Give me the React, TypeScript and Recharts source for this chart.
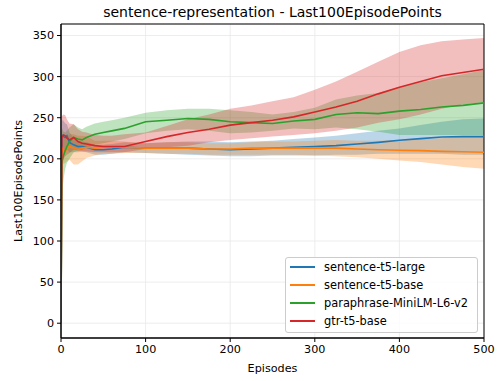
import React from 'react';
import {
  ComposedChart,
  Area,
  Line,
  XAxis,
  YAxis,
  CartesianGrid,
  ReferenceArea,
  Customized,
} from 'recharts';

const episodes = [0, 1, 2, 3, 5, 7, 10, 15, 20, 25, 30, 40, 50, 60, 75, 100, 125, 150, 175, 200, 225, 250, 275, 300, 325, 350, 375, 400, 425, 450, 475, 500];

const t5LargeMean = [0, 225, 228, 227, 226, 228, 220, 217, 215, 215, 214, 211, 211, 212, 214, 213, 213, 213, 212, 211, 212, 213, 214, 215, 216, 218, 220, 222.5, 224.5, 226.5, 227, 227];
const t5LargeLow = [0, 205, 208, 210, 211, 212, 208, 208, 208, 209, 208, 205, 205, 206, 208, 207, 206, 205, 204, 203, 203, 204, 204, 204, 205, 205, 206, 206, 206, 206, 205, 205];
const t5LargeHigh = [0, 245, 248, 246, 243, 242, 232, 226, 222, 221, 220, 217, 217, 218, 220, 219, 220, 221, 221, 220, 221, 222, 224, 226, 228, 231, 234, 237, 241, 245, 248, 249];

const t5BaseMean = [0, 214, 212, 210, 210, 212, 215, 213, 211, 213, 214, 213, 214, 214, 214, 213, 213, 213, 212, 212, 213, 213, 213, 213, 213, 212, 211, 210.5, 210, 209, 208.5, 208];
const t5BaseLow = [0, 196, 195, 194, 195, 197, 199, 193, 193, 197, 201, 204, 206, 206, 207, 207, 206, 206, 205, 205, 205, 205, 205, 204, 203, 202, 200, 198, 196, 193, 190, 188];
const t5BaseHigh = [0, 232, 229, 226, 225, 227, 230, 230, 228, 228, 227, 222, 222, 222, 221, 219, 220, 220, 219, 219, 220, 221, 221, 222, 223, 222, 222, 223, 224, 225, 227, 228];

const miniLmMean = [0, 195, 200, 204, 210, 215, 221, 226, 224, 223, 226, 230, 232, 234, 237, 245, 247, 249, 248, 245, 244, 243, 246, 248, 254, 256, 255, 258, 260, 263, 265, 268];
const miniLmLow = [0, 150, 165, 175, 188, 195, 200, 208, 210, 211, 213, 217, 219, 221, 224, 231, 234, 236, 234, 231, 232, 234, 237, 236, 238, 236, 233, 229, 229, 229, 229, 229];
const miniLmHigh = [0, 238, 235, 233, 232, 234, 238, 242, 238, 236, 239, 243, 245, 247, 250, 256, 259, 261, 261, 259, 257, 254, 257, 262, 272, 277, 280, 287, 293, 298, 303, 308];

const gtrMean = [0, 226, 228, 229, 228, 225, 223, 226, 221, 219, 218, 216, 215, 215, 215, 221, 227, 232, 236, 241, 244, 247, 251, 257, 263, 270, 279, 287, 294, 301, 305, 309];
const gtrLow = [0, 196, 198, 200, 203, 205, 207, 211, 210, 209, 209, 208, 208, 208, 208, 212, 214, 216, 220, 223, 225, 227, 229, 231, 234, 238, 244, 248, 254, 261, 266, 269];
const gtrHigh = [0, 252, 253, 254, 253, 248, 243, 242, 236, 233, 232, 229, 228, 228, 230, 232, 240, 248, 254, 261, 265, 270, 275, 284, 294, 306, 318, 330, 338, 343, 345, 347];

const seriesNames = ['sentence-t5-large', 'sentence-t5-base', 'paraphrase-MiniLM-L6-v2', 'gtr-t5-base'];
const colors = ['#1f77b4', '#ff7f0e', '#2ca02c', '#d62728'];
const xTicks = [0, 100, 200, 300, 400, 500];
const yTicks = [0, 50, 100, 150, 200, 250, 300, 350];

const FONT = '"DejaVu Sans", sans-serif';

const means = [t5LargeMean, t5BaseMean, miniLmMean, gtrMean];
const lows = [t5LargeLow, t5BaseLow, miniLmLow, gtrLow];
const highs = [t5LargeHigh, t5BaseHigh, miniLmHigh, gtrHigh];

const data = episodes.map((ep, i) => {
  const row: Record<string, unknown> = { ep };
  for (let s = 0; s < 4; s++) {
    row['m' + s] = means[s][i];
    row['b' + s] = [lows[s][i], highs[s][i]];
  }
  return row;
});

const LegendBox = () => (
  <div
    style={{
      position: 'absolute',
      left: 285,
      top: 257,
      width: 193,
      height: 76,
      boxSizing: 'border-box',
      border: '1px solid #cccccc',
      borderRadius: 3,
      background: 'rgba(255,255,255,0.8)',
      padding: '0 0 0 4px',
      fontFamily: FONT,
      fontSize: 11.4,
      color: '#000',
      whiteSpace: 'nowrap',
    }}
  >
    {seriesNames.map((n, i) => (
      <div key={n} style={{ display: 'flex', alignItems: 'center', height: 18 }}>
        <span style={{ display: 'inline-block', width: 25, height: 2, background: colors[i], marginRight: 9, flexShrink: 0 }} />
        <span>{n}</span>
      </div>
    ))}
  </div>
);

const Texts = () => (
  <g>
    <text x={272.5} y={16.5} textAnchor="middle" fontFamily={FONT} fontSize={14} fill="#000">
      sentence-representation - Last100EpisodePoints
    </text>
    <text
      x={22}
      y={181}
      textAnchor="middle"
      fontFamily={FONT}
      fontSize={11.2}
      fill="#000"
      transform="rotate(-90 22 181)"
    >
      Last100EpisodePoints
    </text>
    <text x={272.5} y={371.5} textAnchor="middle" fontFamily={FONT} fontSize={11.2} fill="#000">
      Episodes
    </text>
  </g>
);

export default function App() {
  return (
    <div style={{ position: 'absolute', left: 0, top: 0, width: 497, height: 381 }}>
      <ComposedChart
        width={497}
        height={381}
        data={data}
        margin={{ top: 24, right: 13, bottom: 0, left: 0 }}
      >
        <CartesianGrid stroke="#e8e8e8" strokeWidth={0.8} horizontal vertical />
        <XAxis
          dataKey="ep"
          type="number"
          domain={[0, 500]}
          ticks={xTicks}
          allowDataOverflow
          height={43}
          tickSize={4}
          tickMargin={3}
          stroke="#000"
          tick={{ fill: '#000', fontFamily: FONT, fontSize: 11.2 }}
          tickLine={{ stroke: '#000' }}
        />
        <YAxis
          type="number"
          domain={[-18, 364]}
          ticks={yTicks}
          allowDataOverflow
          width={61}
          tickSize={4}
          tickMargin={3}
          stroke="#000"
          tick={{ fill: '#000', fontFamily: FONT, fontSize: 11.2 }}
          tickLine={{ stroke: '#000' }}
        />
        {[0, 1, 2, 3].map((s) => (
          <Area
            key={'b' + s}
            dataKey={'b' + s}
            type="linear"
            stroke="none"
            fill={colors[s]}
            fillOpacity={0.3}
            isAnimationActive={false}
            activeDot={false}
            legendType="none"
          />
        ))}
        {[0, 1, 2, 3].map((s) => (
          <Line
            key={'m' + s}
            dataKey={'m' + s}
            name={seriesNames[s]}
            type="linear"
            stroke={colors[s]}
            strokeWidth={1.6}
            dot={false}
            activeDot={false}
            isAnimationActive={false}
          />
        ))}
        <ReferenceArea x1={0} x2={500} y1={-18} y2={364} fill="none" stroke="#000" strokeWidth={1} ifOverflow="extendDomain" />
        <Customized component={Texts} />
      </ComposedChart>
      <LegendBox />
    </div>
  );
}
